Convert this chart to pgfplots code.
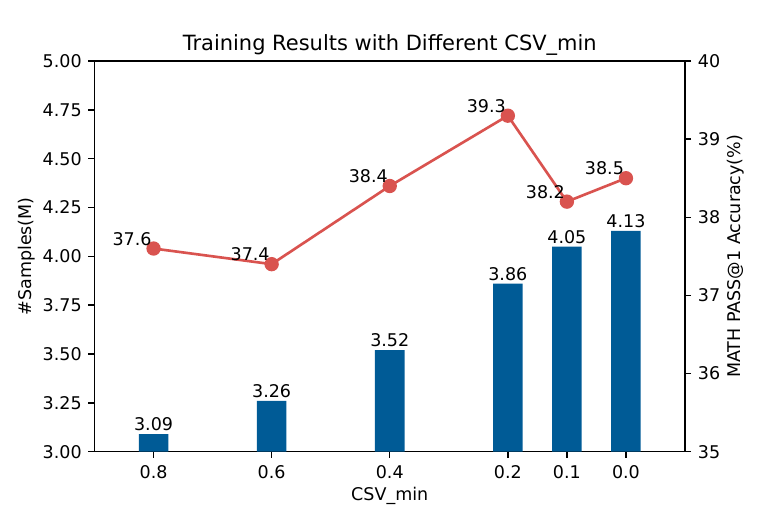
\documentclass[border=0pt]{standalone}
\usepackage{fontspec}
\setmainfont{DejaVu Sans}
\usepackage{pgfplots}
\pgfplotsset{compat=1.18}
\definecolor{barblue}{HTML}{005B96}
\definecolor{linered}{HTML}{D9534F}
\newcommand{\tf}{\fontsize{12.6}{15}\selectfont}
\begin{document}
\begin{tikzpicture}
\useasboundingbox (0,0) rectangle (547.92pt,365.76pt);
\pgfplotsset{
  every axis/.append style={
    scale only axis,
    width=425.16pt, height=281.3pt,
    at={(68.04pt,40.54pt)}, anchor=south west,
    xmin=-0.1, xmax=0.9, x dir=reverse,
    /pgf/number format/assume math mode=true,
    tick align=outside,
    major tick length=4.4pt,
    axis line style={line width=1pt},
    every tick/.style={black, line width=1pt},
    tick label style={font=\tf},
    label style={font=\tf},
  },
}
\begin{axis}[
  ymin=3, ymax=5,
  ytick={3,3.25,3.5,3.75,4,4.25,4.5,4.75,5},
  yticklabels={3.00,3.25,3.50,3.75,4.00,4.25,4.50,4.75,5.00},
  xtick={0.8,0.6,0.4,0.2,0.1,0.0},
  xticklabels={0.8,0.6,0.4,0.2,0.1,0.0},
  xtick pos=bottom, ytick pos=left,
  xticklabel style={anchor=base, inner sep=0pt, yshift=-14.8pt},
  yticklabel style={anchor=east, inner sep=0pt, xshift=-4.6pt},
  xlabel={CSV\_min},
  every axis x label/.style={at={(rel axis cs:0.5,0)}, anchor=base, yshift=-35.5pt, font=\tf},
  ylabel={\#Samples(M)},
  every axis y label/.style={at={(rel axis cs:0,0.5)}, anchor=center, xshift=-48.6pt, rotate=90, font=\tf},
  title={Training Results with Different CSV\_min},
  every axis title/.style={at={(rel axis cs:0.5,1)}, anchor=base, yshift=7.2pt, font=\fontsize{15.1}{18}\selectfont},
  ybar, bar width=0.05,
  point meta=explicit symbolic,
  nodes near coords,
  every node near coord/.append style={anchor=base, inner sep=0pt, yshift=2.5pt, font=\tf, black},
]
\addplot[fill=barblue, draw=none] coordinates {
  (0.8,3.09)[3.09]
  (0.6,3.26)[3.26]
  (0.4,3.52)[3.52]
  (0.2,3.86)[3.86]
  (0.1,4.05)[4.05]
  (0.0,4.13)[4.13]
};
\end{axis}
\begin{axis}[
  ymin=35, ymax=40,
  ytick={35,36,37,38,39,40},
  axis y line*=right,
  axis x line=none,
  yticklabel style={anchor=west, inner sep=0pt, xshift=4.7pt},
  ylabel={MATH PASS@1 Accuracy(\%)},
  every axis y label/.style={at={(rel axis cs:1,0.5)}, anchor=center, xshift=36.4pt, rotate=90, font=\tf},
  point meta=explicit symbolic,
  nodes near coords,
  every node near coord/.append style={anchor=base east, inner sep=0pt, yshift=2.4pt, xshift=-0.5pt, font=\tf, black},
]
\addplot[color=linered, line width=1.9pt, mark=*, mark size=4.2pt, mark options={fill=linered, draw=none}] coordinates {
  (0.8,37.6)[37.6]
  (0.6,37.4)[37.4]
  (0.4,38.4)[38.4]
  (0.2,39.3)[39.3]
  (0.1,38.2)[38.2]
  (0.0,38.5)[38.5]
};
\end{axis}
\end{tikzpicture}
\end{document}
